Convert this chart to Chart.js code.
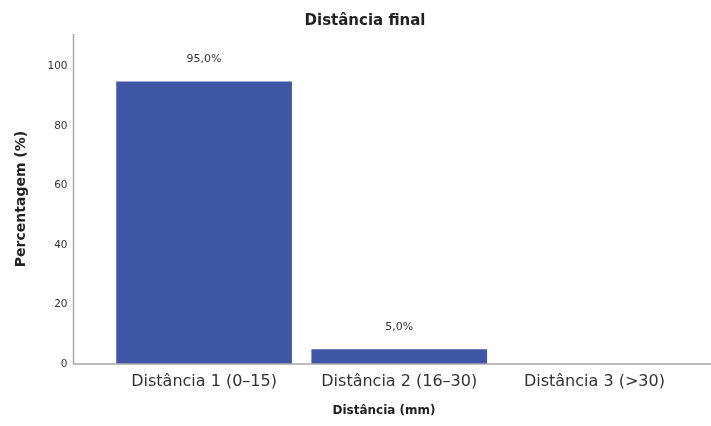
<!DOCTYPE html>
<html>
<head>
<meta charset="utf-8">
<script src="https://cdn.jsdelivr.net/npm/chart.js@4.4.1/dist/chart.umd.min.js"></script>
<style>
  html, body { margin: 0; padding: 0; background: #fff; }
  #wrap { width: 711px; height: 426px; }
</style>
</head>
<body>
<div id="wrap"><canvas id="myChart" width="711" height="426"></canvas></div>
<script>
// Données du graphique
const categories = ["Distância 1 (0–15)", "Distância 2 (16–30)", "Distância 3 (>30)"];
const percentagens = [95.0, 5.0, 0.0];
const yTicks = [0, 20, 40, 60, 80, 100];

const titulo = "Distância final";
const tituloX = "Distância (mm)";
const tituloY = "Percentagem (%)";

const police = "'DejaVu Sans', 'Open Sans', sans-serif";

// Titre, axes et étiquettes des barres
const decorPlugin = {
    id: "decor",
    afterDraw(chart) {
        const ctx = chart.ctx;
        const area = chart.chartArea;
        const y0 = chart.scales.y.getPixelForValue(0);
        ctx.save();

        // axes
        ctx.strokeStyle = "#a9a9a9";
        ctx.lineWidth = 1.5;
        ctx.beginPath();
        ctx.moveTo(73.5, area.top);
        ctx.lineTo(73.5, y0);
        ctx.lineTo(711, y0);
        ctx.stroke();

        // titre
        ctx.fillStyle = "#222";
        ctx.font = "bold 15px " + police;
        ctx.textAlign = "center";
        ctx.textBaseline = "middle";
        ctx.fillText(titulo, 365, 21);

        // titre de l'axe X
        ctx.font = "bold 12px " + police;
        ctx.fillText(tituloX, 384, 411);

        // étiquettes des valeurs
        ctx.font = "11px " + police;
        ctx.fillStyle = "#333";
        const meta = chart.getDatasetMeta(0);
        meta.data.forEach((bar, i) => {
            const v = percentagens[i];
            if (v > 0) {
                ctx.fillText(v.toFixed(1).replace(".", ",") + "%", bar.x, bar.y - 22);
            }
        });
        ctx.restore();
    }
};

new Chart(document.getElementById("myChart"), {
    type: "bar",
    data: {
        labels: categories,
        datasets: [{
            data: percentagens,
            backgroundColor: "#3f56a6",
            borderWidth: 0,
            categoryPercentage: 1.0,
            barPercentage: 0.9
        }]
    },
    options: {
        responsive: false,
        animation: false,
        layout: { padding: { top: 34, right: 19, left: 0, bottom: 0 } },
        plugins: {
            legend: { display: false },
            tooltip: { enabled: false }
        },
        scales: {
            x: {
                grid: { display: false, drawTicks: false },
                border: { display: false },
                ticks: {
                    color: "#333",
                    font: { family: police, size: 16 },
                    padding: 8
                },
                afterFit(scale) {
                    scale.height = 62;
                    scale.paddingLeft = 0;
                    scale.paddingRight = 0;
                }
            },
            y: {
                min: 0,
                max: 111,
                grid: { display: false, drawTicks: false },
                border: { display: false },
                afterBuildTicks(scale) {
                    scale.ticks = yTicks.map(v => ({ value: v }));
                },
                ticks: {
                    color: "#333",
                    font: { family: police, size: 10.5 },
                    padding: 39
                },
                title: {
                    display: true,
                    text: tituloY,
                    color: "#222",
                    font: { family: police, size: 14, weight: "bold" },
                    padding: { top: 13 }
                },
                afterFit(scale) {
                    scale.width = 106.5;
                    scale.paddingTop = 0;
                    scale.paddingBottom = 0;
                }
            }
        }
    },
    plugins: [decorPlugin]
});
</script>
</body>
</html>
